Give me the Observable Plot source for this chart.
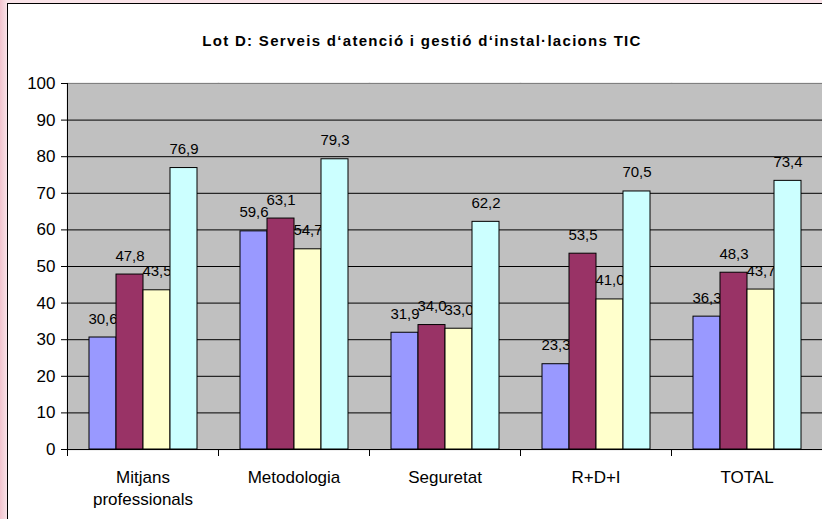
<!DOCTYPE html>
<html>
<head>
<meta charset="utf-8">
<script src="https://cdn.jsdelivr.net/npm/d3@7"></script>
<script src="https://cdn.jsdelivr.net/npm/@observablehq/plot@0.6"></script>
<style>
  html, body { margin: 0; padding: 0; width: 822px; height: 519px; overflow: hidden; }
  body { position: relative; background: linear-gradient(to right, #f2c4cf 0px, #f9e3e8 7px, #f9e3e8 100%); font-family: "Liberation Sans", Arial, sans-serif; }
  #box { position: absolute; left: 7px; top: 3px; width: 850px; height: 540px; background: #fff; border: 1px solid #000; box-sizing: border-box; }
  #title { position: absolute; left: 0; top: 32px; width: 844px; text-align: center; font-weight: bold; font-size: 15px; line-height: 17px; letter-spacing: 1.3px; color: #000; }
  #chart { position: absolute; left: 0; top: 60px; width: 840px; height: 459px; }
  #chart svg { max-width: none !important; width: 840px !important; height: 459px !important; }
</style>
</head>
<body>
<div id="box"></div>
<div id="title">Lot D: Serveis d‘atenció i gestió d‘instal·lacions TIC</div>
<div id="chart"></div>
<script>
// ---- data ----
const categories = ["Mitjans professionals", "Metodologia", "Seguretat", "R+D+I", "TOTAL"];
const categoryTickLabels = ["Mitjans\nprofessionals", "Metodologia", "Seguretat", "R+D+I", "TOTAL"];
const seriesNames = ["Sèrie 1", "Sèrie 2", "Sèrie 3", "Sèrie 4"];
const serie1 = [30.6, 59.6, 31.9, 23.3, 36.3];
const serie2 = [47.8, 63.1, 34.0, 53.5, 48.3];
const serie3 = [43.5, 54.7, 33.0, 41.0, 43.7];
const serie4 = [76.9, 79.3, 62.2, 70.5, 73.4];
const yTicks = [0, 10, 20, 30, 40, 50, 60, 70, 80, 90, 100];
const seriesColors = ["#9999FF", "#993366", "#FFFFCC", "#CCFFFF"];

const seriesValues = [serie1, serie2, serie3, serie4];
const rows = [];
seriesNames.forEach((s, j) => {
  categories.forEach((c, i) => rows.push({category: c, series: s, value: seriesValues[j][i]}));
});

const fmt = v => d3.format(".1f")(v).replace(".", ",");

const W = 840, H = 459, mT = 23, mB = 70, mL = 66, mR = 17;
const plotH = H - mT - mB;

const marks = [
  Plot.frame({fill: "#C0C0C0", stroke: "#C0C0C0", strokeWidth: 1.5}),
  Plot.gridY({ticks: yTicks, stroke: "#000", strokeOpacity: 1}),
  Plot.frame({anchor: "top", stroke: "#808080"})
];
seriesNames.forEach((s, j) => {
  const d = rows.filter(r => r.series === s);
  marks.push(Plot.barY(d, {fx: "category", x: "series", y: "value", fill: seriesColors[j], stroke: "#000", strokeWidth: 1}));
  marks.push(Plot.text(d, {fx: "category", x: "series", y: "value", text: r => fmt(r.value), lineAnchor: "bottom", dy: -14, fontSize: 15, fill: "#000"}));
});
marks.push(Plot.ruleY([0], {stroke: "#000"}));
marks.push(Plot.frame({anchor: "left", facetAnchor: "left", stroke: "#000"}));
marks.push(Plot.frame({anchor: "left", stroke: "#000", insetTop: plotH, insetBottom: -6}));
marks.push(Plot.axisY({ticks: yTicks, tickSize: 6, tickPadding: 6, fontSize: 17, label: null, stroke: "#000", fill: "#000"}));
marks.push(Plot.axisFx({anchor: "bottom", tickSize: 0, tickPadding: 19, fontSize: 17, lineHeight: 1.24, label: null, fill: "#000",
  tickFormat: c => categoryTickLabels[categories.indexOf(c)]}));

const chart = Plot.plot({
  width: W, height: H,
  marginTop: mT, marginBottom: mB, marginLeft: mL, marginRight: mR,
  facet: {marginTop: 0, marginBottom: 0, marginLeft: 0, marginRight: 0},
  style: {fontFamily: "'Liberation Sans', Arial, sans-serif", background: "transparent", overflow: "visible", color: "#000"},
  fx: {domain: categories, padding: 0, label: null},
  x: {domain: seriesNames, paddingInner: 0, paddingOuter: 0.735, axis: null},
  y: {domain: [0, 100], label: null},
  marks
});
document.getElementById("chart").appendChild(chart);
</script>
</body>
</html>
